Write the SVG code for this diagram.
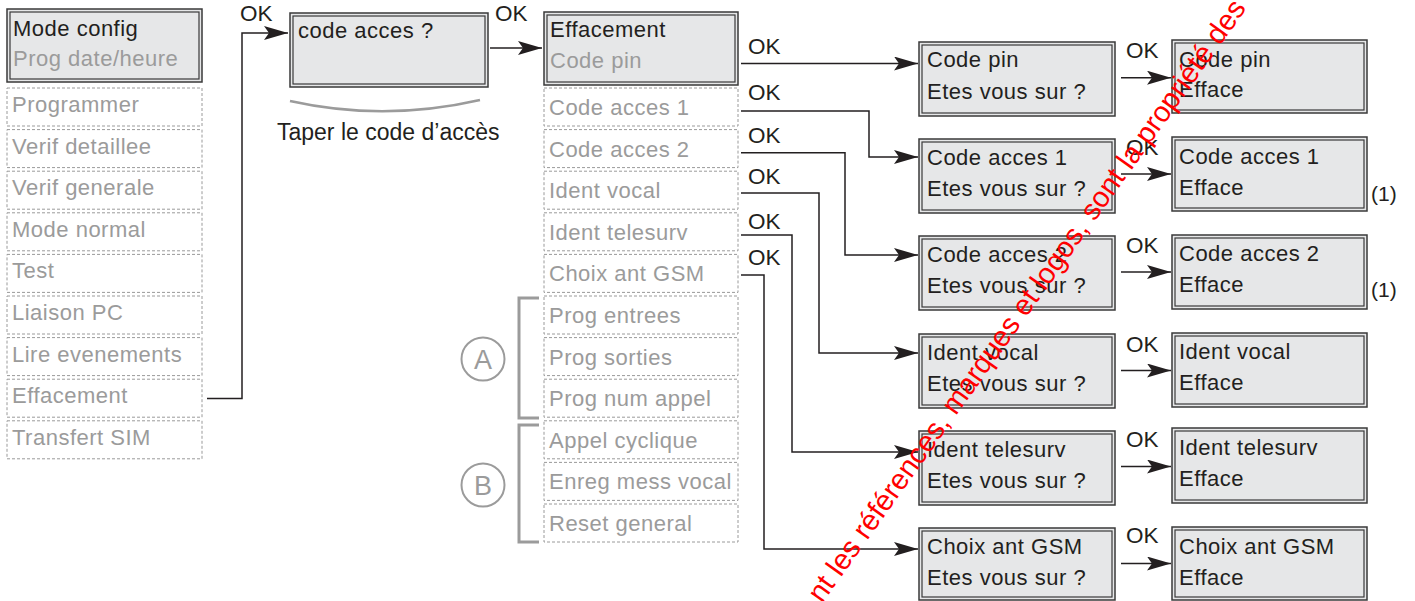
<svg xmlns="http://www.w3.org/2000/svg" width="1415" height="601" viewBox="0 0 1415 601">
<style>
.box{fill:#e6e7e8;stroke:#3a3a3a;stroke-width:1.5}
.inner{fill:none;stroke:#3a3a3a;stroke-width:1.2}
.dash{fill:none;stroke:#9a9a9a;stroke-width:1;stroke-dasharray:3 2}
.t{font-family:"Liberation Sans",Arial,sans-serif;font-size:22px;fill:#231f20;letter-spacing:0.5px}
.g{fill:#9b9b9b}
.lbl{font-family:"Liberation Sans",Arial,sans-serif;font-size:22.5px;fill:#231f20}
.note{font-family:"Liberation Sans",Arial,sans-serif;font-size:21px;fill:#231f20}
.cap{font-family:"Liberation Sans",Arial,sans-serif;font-size:23px;fill:#231f20}
.con{fill:none;stroke:#231f20;stroke-width:1.5}
.brk{fill:none;stroke:#9b9b9b;stroke-width:3}
.circ{fill:none;stroke:#9b9b9b;stroke-width:2}
.ct{font-family:"Liberation Sans",Arial,sans-serif;font-size:27px;fill:#9b9b9b;text-anchor:middle}
.wm{font-family:"Liberation Sans",Arial,sans-serif;font-size:29px;fill:#ff0000}
</style>
<defs>
<marker id="ah" markerUnits="userSpaceOnUse" markerWidth="24" markerHeight="14" refX="24" refY="7" orient="auto">
<path d="M0,0 L24,7 L0,14 L5,7 z" fill="#231f20"/>
</marker>
</defs>
<rect width="1415" height="601" fill="#ffffff"/>

<!-- Left menu -->
<g id="mode-config">
<rect class="box" x="7" y="9" width="195" height="73"/>
<rect class="inner" x="10" y="12" width="189" height="67"/>
<text class="t" x="13" y="36">Mode config</text>
<text class="t g" x="13" y="66">Prog date/heure</text>
</g>
<g id="m-programmer"><rect class="dash" x="7" y="88" width="195" height="38"/><text class="t g" x="12" y="112">Programmer</text></g>
<g id="m-verif-detaillee"><rect class="dash" x="7" y="129.6" width="195" height="38"/><text class="t g" x="12" y="153.6">Verif detaillee</text></g>
<g id="m-verif-generale"><rect class="dash" x="7" y="171.2" width="195" height="38"/><text class="t g" x="12" y="195.2">Verif generale</text></g>
<g id="m-mode-normal"><rect class="dash" x="7" y="212.8" width="195" height="38"/><text class="t g" x="12" y="236.8">Mode normal</text></g>
<g id="m-test"><rect class="dash" x="7" y="254.4" width="195" height="38"/><text class="t g" x="12" y="278.4">Test</text></g>
<g id="m-liaison-pc"><rect class="dash" x="7" y="296" width="195" height="38"/><text class="t g" x="12" y="320">Liaison PC</text></g>
<g id="m-lire-evenements"><rect class="dash" x="7" y="337.6" width="195" height="38"/><text class="t g" x="12" y="361.6">Lire evenements</text></g>
<g id="m-effacement"><rect class="dash" x="7" y="379.2" width="195" height="38"/><text class="t g" x="12" y="403.2">Effacement</text></g>
<g id="m-transfert-sim"><rect class="dash" x="7" y="420.8" width="195" height="38"/><text class="t g" x="12" y="444.8">Transfert SIM</text></g>

<!-- code acces -->
<g id="code-acces">
<rect class="box" x="290" y="13" width="198" height="74"/>
<rect class="inner" x="293" y="16" width="192" height="68"/>
<text class="t" x="298" y="38">code acces ?</text>
<path d="M290,101 Q384,122 480,100" fill="none" stroke="#9b9b9b" stroke-width="2.5"/>
<text class="cap" x="277" y="140">Taper le code d’accès</text>
</g>

<!-- Effacement submenu -->
<g id="effacement">
<rect class="box" x="544" y="12" width="194" height="73"/>
<rect class="inner" x="547" y="15" width="188" height="67"/>
<text class="t" x="550" y="37">Effacement</text>
<text class="t g" x="550" y="68">Code pin</text>
</g>
<g id="s-code-acces-1"><rect class="dash" x="544" y="88" width="194" height="38"/><text class="t g" x="549" y="115">Code acces 1</text></g>
<g id="s-code-acces-2"><rect class="dash" x="544" y="129.6" width="194" height="38"/><text class="t g" x="549" y="156.6">Code acces 2</text></g>
<g id="s-ident-vocal"><rect class="dash" x="544" y="171.2" width="194" height="38"/><text class="t g" x="549" y="198.2">Ident vocal</text></g>
<g id="s-ident-telesurv"><rect class="dash" x="544" y="212.8" width="194" height="38"/><text class="t g" x="549" y="239.8">Ident telesurv</text></g>
<g id="s-choix-ant-gsm"><rect class="dash" x="544" y="254.4" width="194" height="38"/><text class="t g" x="549" y="281.4">Choix ant GSM</text></g>
<g id="s-prog-entrees"><rect class="dash" x="544" y="296" width="194" height="38"/><text class="t g" x="549" y="323">Prog entrees</text></g>
<g id="s-prog-sorties"><rect class="dash" x="544" y="337.6" width="194" height="38"/><text class="t g" x="549" y="364.6">Prog sorties</text></g>
<g id="s-prog-num-appel"><rect class="dash" x="544" y="379.2" width="194" height="38"/><text class="t g" x="549" y="406.2">Prog num appel</text></g>
<g id="s-appel-cyclique"><rect class="dash" x="544" y="420.8" width="194" height="38"/><text class="t g" x="549" y="447.8">Appel cyclique</text></g>
<g id="s-enreg-mess-vocal"><rect class="dash" x="544" y="462.4" width="194" height="38"/><text class="t g" x="549" y="489.4">Enreg mess vocal</text></g>
<g id="s-reset-general"><rect class="dash" x="544" y="504" width="194" height="38"/><text class="t g" x="549" y="531">Reset general</text></g>

<g id="group-a">
<path class="brk" d="M539,298 H519 V418 H539"/>
<circle class="circ" cx="483" cy="359" r="21.5"/>
<text class="ct" x="483" y="369">A</text>
</g>
<g id="group-b">
<path class="brk" d="M539,425 H519 V542 H539"/>
<circle class="circ" cx="483" cy="485" r="21.5"/>
<text class="ct" x="483" y="495">B</text>
</g>

<!-- Confirmation boxes -->
<g id="c-code-pin"><rect class="box" x="919" y="42" width="196" height="74"/><rect class="inner" x="922" y="45" width="190" height="68"/><text class="t" x="927" y="67">Code pin</text><text class="t" x="927" y="99">Etes vous sur ?</text></g>
<g id="c-code-acces-1"><rect class="box" x="919" y="139" width="196" height="74"/><rect class="inner" x="922" y="142" width="190" height="68"/><text class="t" x="927" y="165">Code acces 1</text><text class="t" x="927" y="196">Etes vous sur ?</text></g>
<g id="c-code-acces-2"><rect class="box" x="919" y="236" width="196" height="74"/><rect class="inner" x="922" y="239" width="190" height="68"/><text class="t" x="927" y="262">Code acces 2</text><text class="t" x="927" y="293">Etes vous sur ?</text></g>
<g id="c-ident-vocal"><rect class="box" x="919" y="334" width="196" height="74"/><rect class="inner" x="922" y="337" width="190" height="68"/><text class="t" x="927" y="360">Ident vocal</text><text class="t" x="927" y="391">Etes vous sur ?</text></g>
<g id="c-ident-telesurv"><rect class="box" x="919" y="431" width="196" height="74"/><rect class="inner" x="922" y="434" width="190" height="68"/><text class="t" x="927" y="457">Ident telesurv</text><text class="t" x="927" y="488">Etes vous sur ?</text></g>
<g id="c-choix-ant-gsm"><rect class="box" x="919" y="528" width="196" height="72"/><rect class="inner" x="922" y="531" width="190" height="66"/><text class="t" x="927" y="554">Choix ant GSM</text><text class="t" x="927" y="585">Etes vous sur ?</text></g>

<!-- Efface boxes -->
<g id="e-code-pin"><rect class="box" x="1172" y="40" width="195" height="73"/><rect class="inner" x="1175" y="43" width="189" height="67"/><text class="t" x="1179" y="67">Code pin</text><text class="t" x="1179" y="97">Efface</text></g>
<g id="e-code-acces-1"><rect class="box" x="1172" y="137" width="195" height="74"/><rect class="inner" x="1175" y="140" width="189" height="68"/><text class="t" x="1179" y="164">Code acces 1</text><text class="t" x="1179" y="195">Efface</text><text class="note" x="1371" y="201">(1)</text></g>
<g id="e-code-acces-2"><rect class="box" x="1172" y="235" width="195" height="74"/><rect class="inner" x="1175" y="238" width="189" height="68"/><text class="t" x="1179" y="261">Code acces 2</text><text class="t" x="1179" y="292">Efface</text><text class="note" x="1371" y="297">(1)</text></g>
<g id="e-ident-vocal"><rect class="box" x="1172" y="333" width="195" height="74"/><rect class="inner" x="1175" y="336" width="189" height="68"/><text class="t" x="1179" y="359">Ident vocal</text><text class="t" x="1179" y="390">Efface</text></g>
<g id="e-ident-telesurv"><rect class="box" x="1172" y="428" width="195" height="75"/><rect class="inner" x="1175" y="431" width="189" height="69"/><text class="t" x="1179" y="455">Ident telesurv</text><text class="t" x="1179" y="486">Efface</text></g>
<g id="e-choix-ant-gsm"><rect class="box" x="1172" y="527" width="195" height="73"/><rect class="inner" x="1175" y="530" width="189" height="67"/><text class="t" x="1179" y="554">Choix ant GSM</text><text class="t" x="1179" y="585">Efface</text></g>

<!-- Connectors -->
<g id="connectors">
<path class="con" marker-end="url(#ah)" d="M207,398.5 H242 V33 H288"/>
<path class="con" marker-end="url(#ah)" d="M490,48 H542"/>
<path class="con" marker-end="url(#ah)" d="M741,63.5 H918"/>
<path class="con" marker-end="url(#ah)" d="M741,111 H869 V157 H918"/>
<path class="con" marker-end="url(#ah)" d="M741,152.7 H845 V255 H918"/>
<path class="con" marker-end="url(#ah)" d="M741,193 H819 V353 H918"/>
<path class="con" marker-end="url(#ah)" d="M741,235 H792 V452 H918"/>
<path class="con" marker-end="url(#ah)" d="M741,275 H764 V549 H918"/>
<path class="con" marker-end="url(#ah)" d="M1121,77.7 H1171"/>
<path class="con" marker-end="url(#ah)" d="M1121,174 H1171"/>
<path class="con" marker-end="url(#ah)" d="M1121,272 H1171"/>
<path class="con" marker-end="url(#ah)" d="M1121,370.5 H1171"/>
<path class="con" marker-end="url(#ah)" d="M1121,466.5 H1171"/>
<path class="con" marker-end="url(#ah)" d="M1121,563.5 H1171"/>
<text class="lbl" x="240" y="21">OK</text>
<text class="lbl" x="495" y="21">OK</text>
<text class="lbl" x="748" y="54">OK</text>
<text class="lbl" x="748" y="100">OK</text>
<text class="lbl" x="748" y="143">OK</text>
<text class="lbl" x="748" y="184">OK</text>
<text class="lbl" x="748" y="229">OK</text>
<text class="lbl" x="748" y="265">OK</text>
<text class="lbl" x="1126" y="58">OK</text>
<text class="lbl" x="1126" y="155">OK</text>
<text class="lbl" x="1126" y="253">OK</text>
<text class="lbl" x="1126" y="352">OK</text>
<text class="lbl" x="1126" y="447">OK</text>
<text class="lbl" x="1126" y="543">OK</text>
</g>

<text class="wm" transform="translate(822,604) rotate(-54.5)">nt les références, marques et logos, sont la propriété des</text>
</svg>
